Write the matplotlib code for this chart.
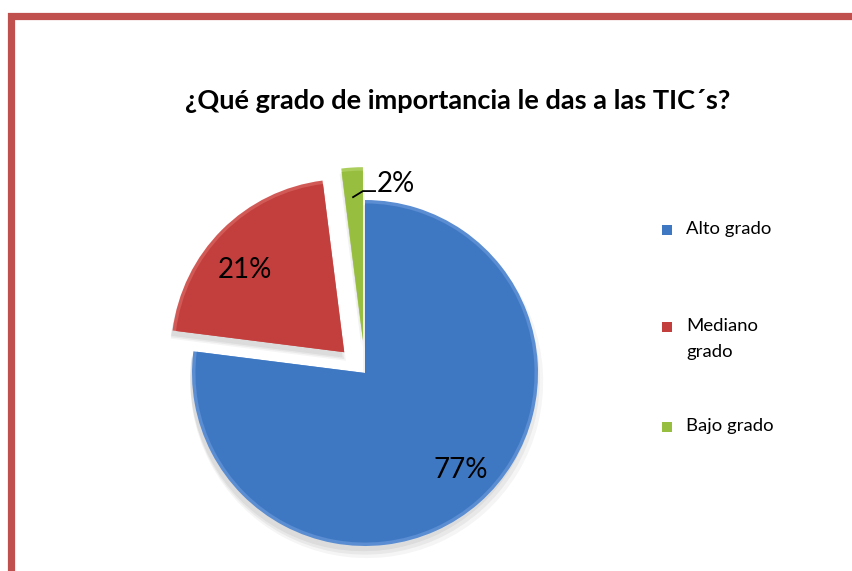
import matplotlib
matplotlib.use("Agg")
import matplotlib.pyplot as plt
import numpy as np
from matplotlib.patches import Rectangle, Wedge

plt.rcParams['font.family'] = ['Lato', 'DejaVu Sans']

categories = ["Alto grado", "Mediano\ngrado", "Bajo grado"]
values = [77, 21, 2]
pct_labels = ["77%", "21%", "2%"]
title = "¿Qué grado de importancia le das a las TIC´s?"

colors = ["#3F78C2", "#C23F3D", "#98BE3F"]
edge_light = ["#5A8DD2", "#D25A56", "#AACD5C"]
explode = [0.0, 0.17, 0.19]

W, H = 853, 571
fig = plt.figure(figsize=(W / 100, H / 100), dpi=100)
fig.patch.set_facecolor("white")

R = 173.0
cx, cy = 365.0, 373.0
ax = fig.add_axes([0, 0, 1, 1])
wedges, _ = ax.pie(values, startangle=90, counterclock=False, colors=colors,
                   explode=explode, radius=1.0,
                   wedgeprops=dict(linewidth=0))
ax.set_xlim(-cx / R, (W - cx) / R)
ax.set_ylim(-(H - cy) / R, cy / R)
ax.set_aspect('auto')
ax.axis('off')

for w, c, lc in zip(wedges, colors, edge_light):
    w.set_facecolor(lc)
    c0 = w.center
    for k, a in enumerate([0.05, 0.05, 0.04]):
        sh = Wedge((c0[0] - 0.01 + 0.01 * k, c0[1] - 0.03 - 0.01 * k), w.r + 0.01 * k,
                   w.theta1, w.theta2, facecolor="#000000", alpha=a,
                   linewidth=0, zorder=0)
        ax.add_patch(sh)
    inner = Wedge(c0, w.r * 0.98, w.theta1, w.theta2, facecolor=c,
                  linewidth=0, zorder=w.get_zorder() + 0.1)
    ax.add_patch(inner)

# percentage labels
for i, w in enumerate(wedges):
    mid = np.deg2rad((w.theta1 + w.theta2) / 2)
    c0 = w.center
    if i == 0:
        r, a = 0.79, mid + 0.058
        ax.text(c0[0] + r * np.cos(a), c0[1] + r * np.sin(a), pct_labels[i],
                ha='center', va='center', fontsize=20, color='black', zorder=10)
    elif i == 1:
        r, a = 0.743, mid + 0.094
        ax.text(c0[0] + r * np.cos(a), c0[1] + r * np.sin(a), pct_labels[i],
                ha='center', va='center', fontsize=20, color='black', zorder=10)
    else:
        ax.plot([c0[0] - 0.057, c0[0], c0[0] + 0.07],
                [c0[1] + 0.827, c0[1] + 0.862, c0[1] + 0.862],
                color='black', lw=1.3, zorder=10)
        ax.text(c0[0] + 0.082, c0[1] + 0.905, pct_labels[i], ha='left', va='center',
                fontsize=20, color='black', zorder=10)

fig.text(458 / W, 1 - 101 / H, title, ha='center', va='center',
         fontsize=19.5, fontweight='bold')

leg_y = [231, 328, 428]
for cat, col, yy in zip(categories, colors, leg_y):
    fig.patches.append(Rectangle(((667 - 5) / W, 1 - (yy + 4) / H), 10 / W, 10 / H,
                                 transform=fig.transFigure, facecolor=col,
                                 edgecolor='none'))
    fig.text(686 / W, 1 - (yy - 10) / H, cat, ha='left', va='top', fontsize=13.3,
             linespacing=1.75)

fig.patches.append(Rectangle((10.8 / W, -0.2), 2.0, 1.2 - 16 / H,
                             transform=fig.transFigure, fill=False,
                             edgecolor="#C0504D", linewidth=5.2))

fig.savefig("out.png", dpi=100, facecolor="white")
